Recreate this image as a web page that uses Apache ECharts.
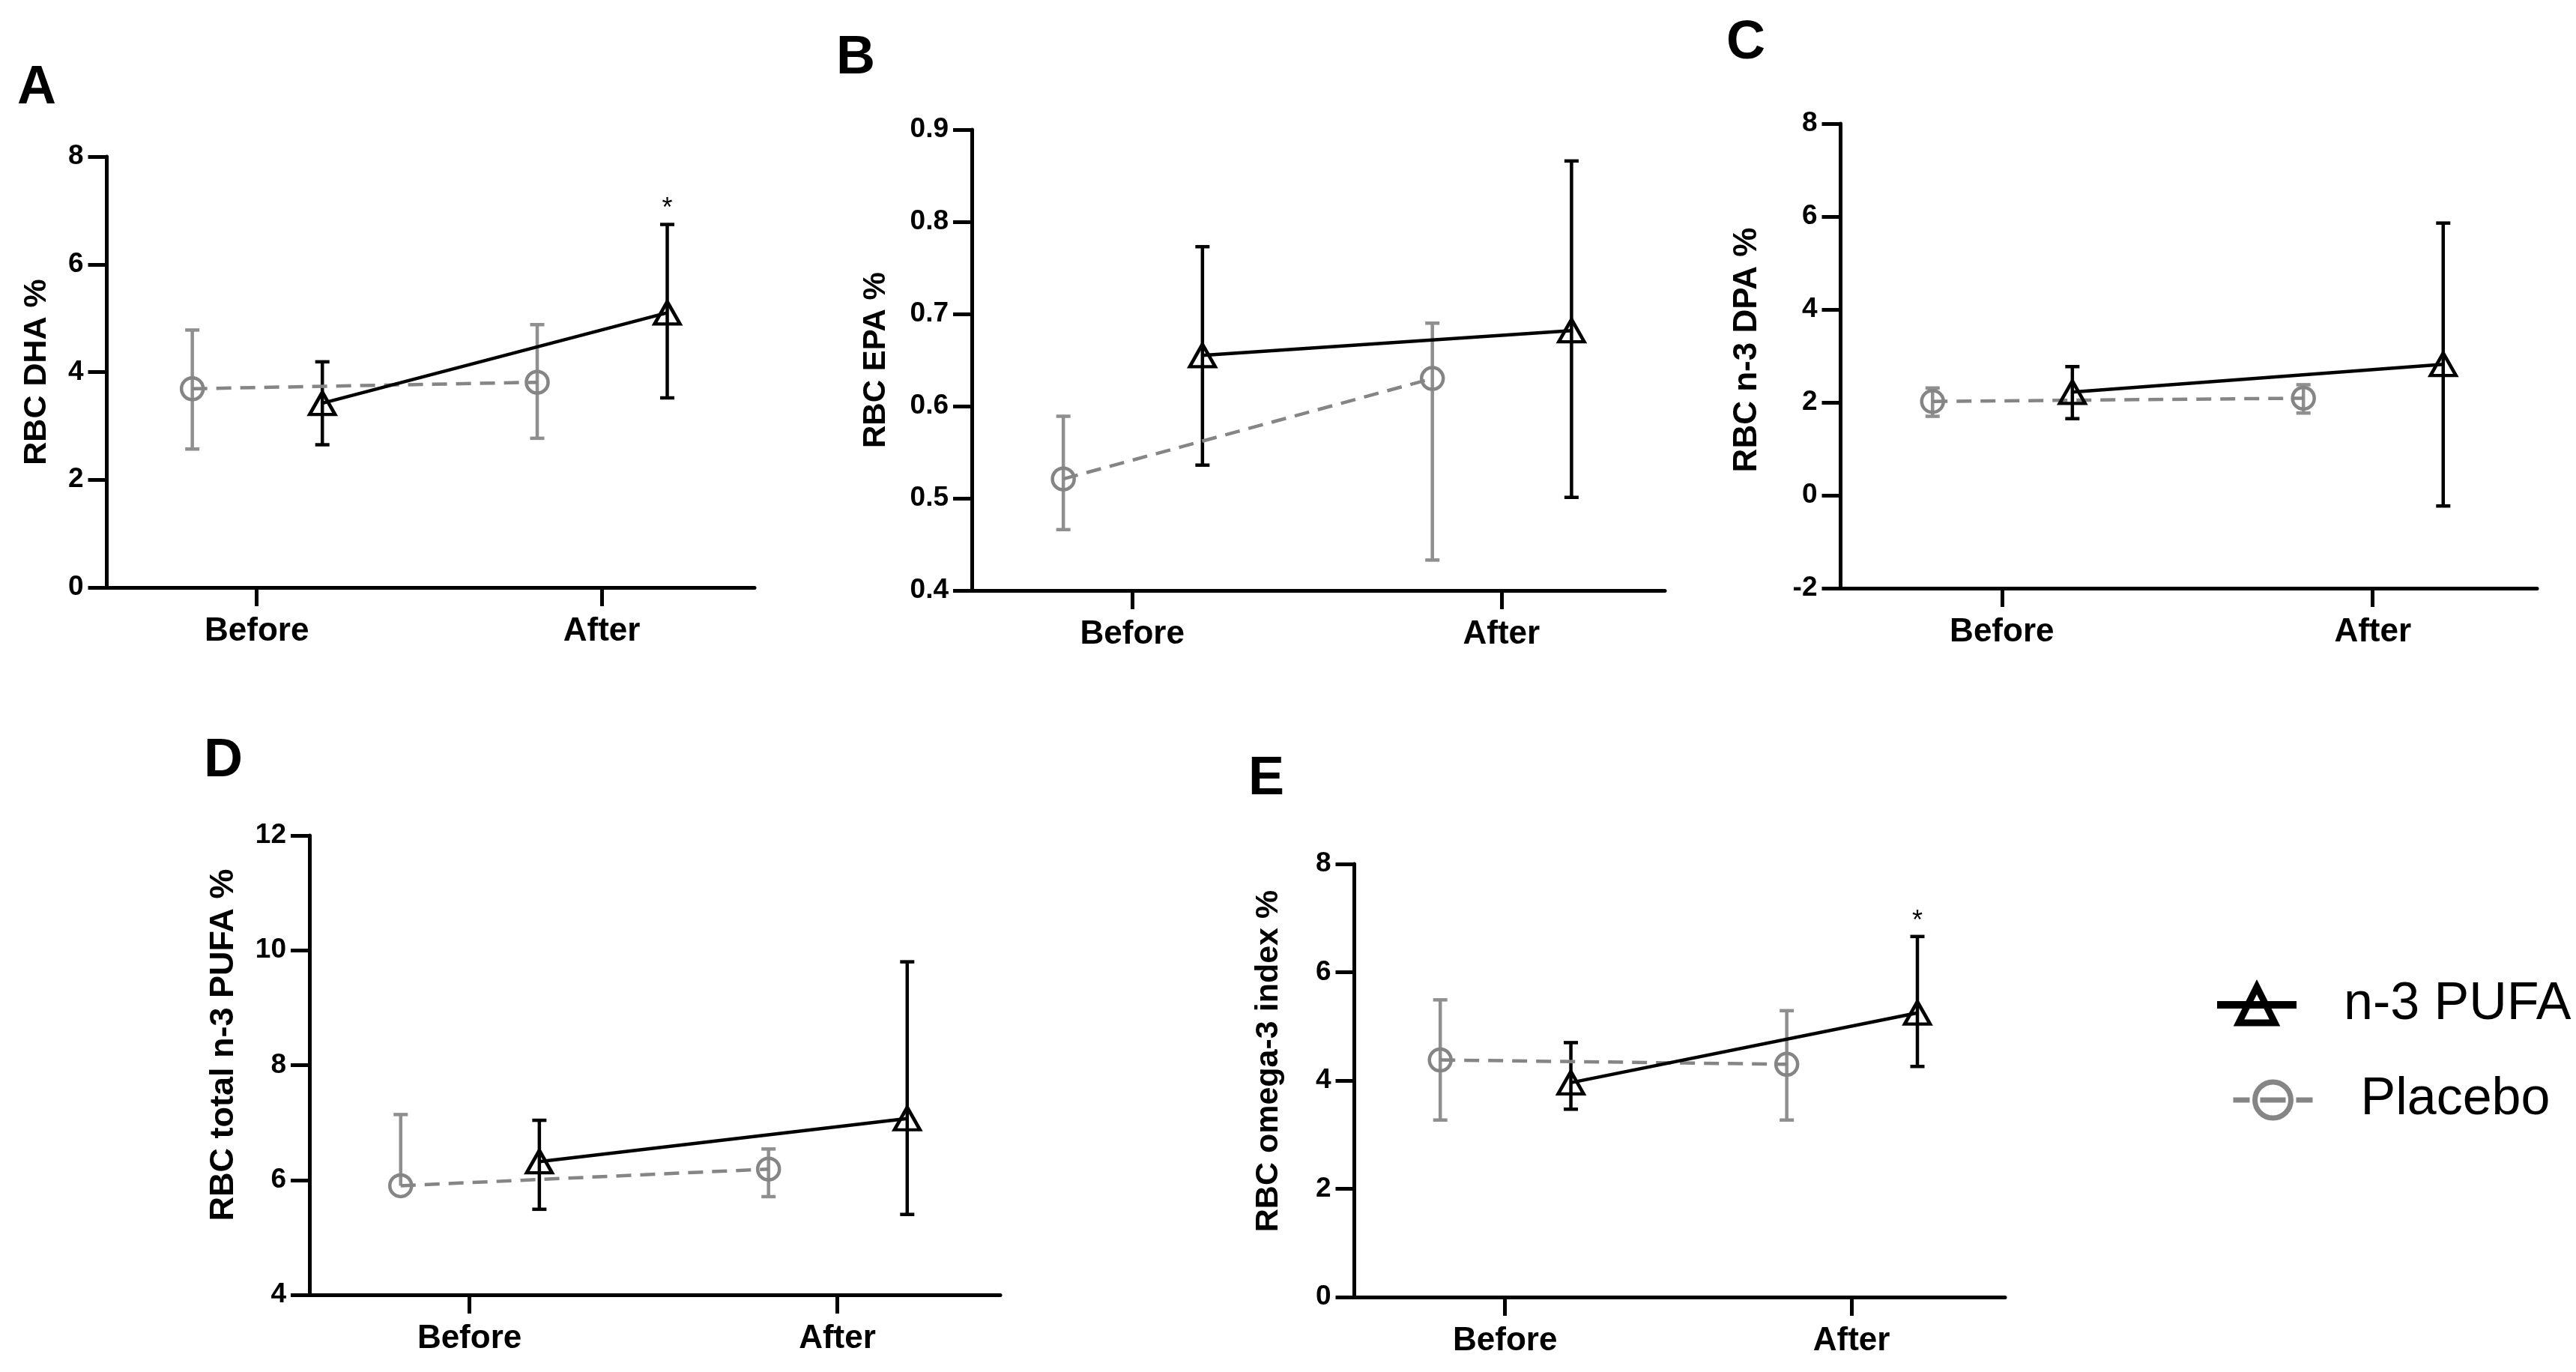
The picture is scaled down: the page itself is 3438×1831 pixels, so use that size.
<!DOCTYPE html>
<html>
<head>
<meta charset="utf-8">
<script src="https://cdn.jsdelivr.net/npm/echarts@6/dist/echarts.min.js"></script>
<style>
html,body{margin:0;padding:0;background:#fff;}
#chart{width:3438px;height:1831px;}
</style>
</head>
<body>
<div id="chart"></div>
<script>
// ---------------- DATA ----------------
const categories = ['Before', 'After'];
const seriesNames = ['n-3 PUFA', 'Placebo'];

// A: RBC DHA %
const dhaTicks = [0, 2, 4, 6, 8];
const dhaN3Mean = [3.42, 5.10];
const dhaN3Low  = [2.65, 3.52];
const dhaN3High = [4.19, 6.74];
const dhaPlMean = [3.69, 3.81];
const dhaPlLow  = [2.57, 2.77];
const dhaPlHigh = [4.78, 4.88];
const dhaSig    = ['', '*'];

// B: RBC EPA %
const epaTicks = [0.4, 0.5, 0.6, 0.7, 0.8, 0.9];
const epaN3Mean = [0.655, 0.682];
const epaN3Low  = [0.536, 0.501];
const epaN3High = [0.773, 0.866];
const epaPlMean = [0.521, 0.630];
const epaPlLow  = [0.466, 0.433];
const epaPlHigh = [0.589, 0.690];
const epaSig    = ['', ''];

// C: RBC n-3 DPA %
const dpaTicks = [-2, 0, 2, 4, 6, 8];
const dpaN3Mean = [2.22, 2.82];
const dpaN3Low  = [1.65, -0.23];
const dpaN3High = [2.77, 5.86];
const dpaPlMean = [2.02, 2.09];
const dpaPlLow  = [1.70, 1.77];
const dpaPlHigh = [2.31, 2.38];
const dpaSig    = ['', ''];

// D: RBC total n-3 PUFA %
const pufaTicks = [4, 6, 8, 10, 12];
const pufaN3Mean = [6.32, 7.07];
const pufaN3Low  = [5.49, 5.40];
const pufaN3High = [7.04, 9.80];
const pufaPlMean = [5.90, 6.19];
const pufaPlLow  = [5.90, 5.71];
const pufaPlHigh = [7.14, 6.54];
const pufaSig    = ['', ''];

// E: RBC omega-3 index %
const idxTicks = [0, 2, 4, 6, 8];
const idxN3Mean = [3.96, 5.25];
const idxN3Low  = [3.47, 4.26];
const idxN3High = [4.70, 6.66];
const idxPlMean = [4.38, 4.30];
const idxPlLow  = [3.27, 3.27];
const idxPlHigh = [5.49, 5.29];
const idxSig    = ['', '*'];

// ---------------- LAYOUT / STYLE ----------------
const FONT = "'Liberation Sans', Arial, Helvetica, sans-serif";
const N3_COLOR = '#000000';
const PL_COLOR = '#858585';
const PL_ERR_COLOR = '#8f8f8f';
const DODGE_N3 = 0.19;
const DODGE_PL = -0.187;
const XMIN = 0.565, XMAX = 2.443;

const panels = [
  { letter: 'A', lx: 49,   ly: 118,  title: 'RBC DHA %', ticks: dhaTicks,
    n3: [dhaN3Mean, dhaN3Low, dhaN3High], pl: [dhaPlMean, dhaPlLow, dhaPlHigh], sig: dhaSig,
    grid: { left: 142.5, top: 209, width: 864.5, height: 575 }, nameGap: 72, namePad: 0, nameSize: 43, decimals: 0 },
  { letter: 'B', lx: 1142, ly: 78,   title: 'RBC EPA %', ticks: epaTicks,
    n3: [epaN3Mean, epaN3Low, epaN3High], pl: [epaPlMean, epaPlLow, epaPlHigh], sig: epaSig,
    grid: { left: 1297, top: 173, width: 925, height: 615 }, nameGap: 107, namePad: 0, nameSize: 42, decimals: 1 },
  { letter: 'C', lx: 2330, ly: 58,   title: 'RBC n-3 DPA %', ticks: dpaTicks,
    n3: [dpaN3Mean, dpaN3Low, dpaN3High], pl: [dpaPlMean, dpaPlLow, dpaPlHigh], sig: dpaSig,
    grid: { left: 2456.5, top: 165, width: 929.5, height: 620 }, nameGap: 103, namePad: 16, nameSize: 44, decimals: 0 },
  { letter: 'D', lx: 298,  ly: 1016, title: 'RBC total n-3 PUFA %', ticks: pufaTicks,
    n3: [pufaN3Mean, pufaN3Low, pufaN3High], pl: [pufaPlMean, pufaPlLow, pufaPlHigh], sig: pufaSig,
    grid: { left: 413, top: 1115, width: 922, height: 613 }, nameGap: 92, namePad: 54, nameSize: 45, decimals: 0 },
  { letter: 'E', lx: 1690, ly: 1040, title: 'RBC omega-3 index %', ticks: idxTicks,
    n3: [idxN3Mean, idxN3Low, idxN3High], pl: [idxPlMean, idxPlLow, idxPlHigh], sig: idxSig,
    grid: { left: 1807.5, top: 1153, width: 868.5, height: 578 }, nameGap: 93, namePad: 52, nameSize: 43, decimals: 0 }
];

// ---------------- BUILD OPTION ----------------
function errRender(color, sig) {
  const capW = 19, lw = 4.5;
  return function (params, api) {
    const x = api.value(0), m = api.value(1), lo = api.value(2), hi = api.value(3);
    const pl = api.coord([x, lo]);
    const ph = api.coord([x, hi]);
    const st = { stroke: color, lineWidth: lw };
    const children = [
      { type: 'line', shape: { x1: ph[0], y1: ph[1], x2: pl[0], y2: pl[1] }, style: st },
      { type: 'line', shape: { x1: ph[0] - capW / 2, y1: ph[1], x2: ph[0] + capW / 2, y2: ph[1] }, style: st }
    ];
    if (lo < m) {
      children.push({ type: 'line', shape: { x1: pl[0] - capW / 2, y1: pl[1], x2: pl[0] + capW / 2, y2: pl[1] }, style: st });
    }
    const s = sig ? sig[params.dataIndex] : '';
    if (s) {
      children.push({ type: 'text', x: ph[0], y: ph[1] - 20,
        style: { text: s, fontSize: 36, fontFamily: FONT, fill: '#000', align: 'center', verticalAlign: 'middle' } });
    }
    return { type: 'group', children: children };
  };
}

const grids = [], xAxes = [], yAxes = [], lineSeries = [], errSeries = [], graphics = [];

panels.forEach(function (p, i) {
  grids.push(Object.assign({ containLabel: false, outerBoundsMode: 'none' }, p.grid));
  const t = p.ticks;
  const interval = Math.round((t[1] - t[0]) * 1e6) / 1e6;
  xAxes.push({
    gridIndex: i, type: 'value', min: XMIN, max: XMAX,
    axisLine: { show: true, onZero: false, lineStyle: { color: '#000', width: 5 } },
    axisTick: { show: true, customValues: [1, 2], length: 25, lineStyle: { color: '#000', width: 5 } },
    axisLabel: { show: true, customValues: [1, 2], margin: 37,
      formatter: function (v) { return categories[Math.round(v) - 1] || ''; },
      fontSize: 44, fontWeight: 'bold', color: '#000', fontFamily: FONT, lineHeight: 44 },
    splitLine: { show: false }
  });
  yAxes.push({
    gridIndex: i, type: 'value', min: t[0], max: t[t.length - 1], interval: interval,
    name: p.title, nameLocation: 'middle', nameGap: p.nameGap,
    nameTextStyle: { fontSize: p.nameSize, fontWeight: 'bold', color: '#000', fontFamily: FONT,
      padding: [0, 0, 0, p.namePad] },
    axisLine: { show: true, onZero: false, lineStyle: { color: '#000', width: 5 } },
    axisTick: { show: true, length: 25, lineStyle: { color: '#000', width: 5 } },
    axisLabel: { show: true, margin: 31, fontSize: 37, fontWeight: 'bold', color: '#000', fontFamily: FONT,
      showMinLabel: true, showMaxLabel: true,
      formatter: function (v) { return Number(v).toFixed(p.decimals); } },
    splitLine: { show: false }
  });

  const groups = [
    { name: seriesNames[1], arr: p.pl, dodge: DODGE_PL, color: PL_COLOR, errColor: PL_ERR_COLOR,
      symbol: 'circle', size: 29, dash: [20, 12], sig: null },
    { name: seriesNames[0], arr: p.n3, dodge: DODGE_N3, color: N3_COLOR, errColor: N3_COLOR,
      symbol: 'triangle', size: [34, 30], dash: 'solid', sig: p.sig }
  ];
  groups.forEach(function (g) {
    lineSeries.push({
      type: 'line', name: g.name, xAxisIndex: i, yAxisIndex: i,
      data: categories.map(function (c, k) { return [k + 1 + g.dodge, g.arr[0][k]]; }),
      symbol: g.symbol, symbolSize: g.size, showSymbol: true,
      itemStyle: { color: 'transparent', borderColor: g.color, borderWidth: 4.5 },
      lineStyle: { color: g.color, width: 4.5, type: g.dash },
      z: 3, silent: true, animation: false, emphasis: { disabled: true }
    });
    errSeries.push({
      type: 'custom', name: g.name + ' SD', xAxisIndex: i, yAxisIndex: i,
      renderItem: errRender(g.errColor, g.sig),
      data: categories.map(function (c, k) {
        return [k + 1 + g.dodge, g.arr[0][k], g.arr[1][k], g.arr[2][k]];
      }),
      encode: { x: 0, y: [1, 2, 3] }, z: 2, silent: true, animation: false
    });
  });

  graphics.push({
    type: 'text', x: p.lx, y: p.ly,
    style: { text: p.letter, fontSize: 72, fontWeight: 'bold', fontFamily: FONT, fill: '#000',
      align: 'center', verticalAlign: 'middle' }
  });
});

const legendText = { fontSize: 70, color: '#000', fontFamily: FONT };
const option = {
  backgroundColor: '#ffffff',
  animation: false,
  grid: grids,
  xAxis: xAxes,
  yAxis: yAxes,
  series: lineSeries.concat(errSeries),
  graphic: graphics,
  legend: [
    { orient: 'vertical', left: 2949, top: 1301, itemWidth: 106, itemHeight: 60, selectedMode: false,
      textStyle: Object.assign({ padding: [0, 0, 0, 58] }, legendText),
      data: [{ name: seriesNames[0],
        itemStyle: { color: 'transparent', borderColor: N3_COLOR, borderWidth: 9 },
        lineStyle: { color: N3_COLOR, width: 10, type: 'solid' } }] },
    { orient: 'vertical', left: 2972, top: 1428, itemWidth: 106, itemHeight: 60, selectedMode: false,
      textStyle: Object.assign({ padding: [0, 0, 0, 59] }, legendText),
      data: [{ name: seriesNames[1],
        itemStyle: { color: 'transparent', borderColor: PL_COLOR, borderWidth: 7 },
        lineStyle: { color: PL_COLOR, width: 7, type: [22, 14, 34, 14] } }] }
  ]
};

const chart = echarts.init(document.getElementById('chart'), null, { renderer: 'canvas' });
chart.setOption(option);
</script>
</body>
</html>
